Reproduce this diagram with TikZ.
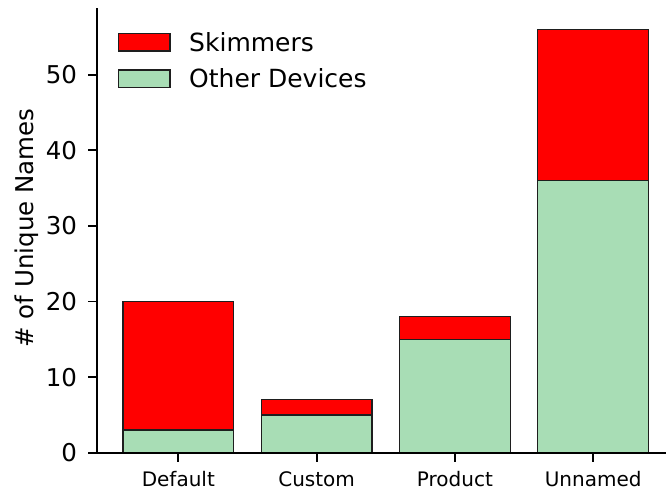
\documentclass[tikz,border=0pt]{standalone}
\usepackage{fontspec}
\setmainfont{DejaVu Sans}
\definecolor{skimred}{HTML}{FF0000}
\definecolor{othergreen}{HTML}{A8DDB5}
\definecolor{edgegray}{HTML}{1E1E1E}
\tikzset{
  barseg/.style={draw=edgegray, line width=1.2pt},
  spineline/.style={draw=black, line width=2pt},
  tickline/.style={draw=black, line width=1.8pt},
  ytick/.style={anchor=east, inner sep=0pt, font=\fontsize{24.5}{29}\selectfont},
  xtick/.style={anchor=north, inner sep=0pt, font=\fontsize{20}{24}\selectfont},
  legtext/.style={anchor=base west, inner sep=0pt, font=\fontsize{25}{30}\selectfont},
}
\begin{document}
\begin{tikzpicture}[x=1pt,y=-1pt]
\useasboundingbox (0,0) rectangle (666,491);
% data coordinates: category index along x, count along y (upwards)
\begin{scope}[shift={(178.3,452.7)}, x=138.3pt, y=7.56pt]
  % stacked bars: other devices below, skimmers on top
  \foreach \i/\g/\t in {0/3/20, 1/5/7, 2/15/18, 3/36/56}{
    \draw[barseg, fill=othergreen] (\i-0.4,0) rectangle (\i+0.4,\g);
    \draw[barseg, fill=skimred] (\i-0.4,\g) rectangle (\i+0.4,\t);
  }
  % axes spines
  \coordinate (ytop) at (-0.59,58.8);
  \coordinate (orig) at (-0.59,0);
  \coordinate (xend) at (3.53,0);
  \draw[spineline] (ytop) -- (orig) -- (xend);
  % y ticks and labels
  \foreach \v in {0,10,...,50}{
    \coordinate (yt\v) at (-0.59,\v);
    \draw[tickline] (yt\v) -- ++(-8.4pt,0pt);
    \node[ytick] (ylab\v) at ([xshift=-19.5pt]yt\v) {\v};
  }
  % x ticks and labels
  \foreach \i/\name in {0/Default, 1/Custom, 2/Product, 3/Unnamed}{
    \coordinate (xt\i) at (\i,0);
    \draw[tickline] (xt\i) -- ++(0pt,-9pt);
    \node[xtick] (xlab\i) at ([yshift=-18.5pt]xt\i) {\name};
  }
\end{scope}
% axis title
\node[rotate=90, anchor=base, inner sep=0pt, font=\fontsize{24.5}{29}\selectfont] (ytitle) at (33.5,228) {\# of Unique Names};
% legend
\draw[barseg, fill=skimred] (118.3,33.3) rectangle (170,51);
\draw[barseg, fill=othergreen] (118.3,70) rectangle (170,87.7);
\node[legtext] (legskim) at (189,51.5) {Skimmers};
\node[legtext] (legother) at (189,87.5) {Other Devices};
\end{tikzpicture}
\end{document}
